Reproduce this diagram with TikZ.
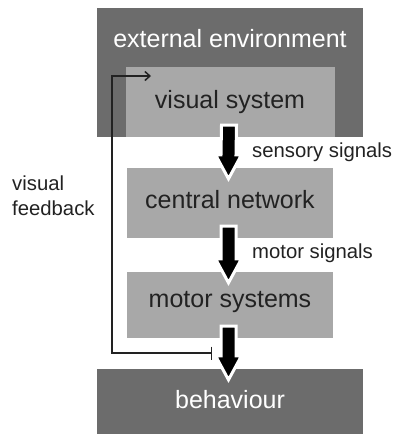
\documentclass[tikz,border=0pt]{standalone}
\usepackage{fontspec}
\setmainfont{Liberation Sans}
\usetikzlibrary{arrows.meta,calc}
\definecolor{darkbox}{RGB}{108,108,108}
\definecolor{lightbox}{RGB}{168,168,168}
\definecolor{ink}{RGB}{34,34,34}
\tikzset{
  darkrect/.style={fill=darkbox,draw=none,inner sep=0pt},
  lightrect/.style={fill=lightbox,draw=none,inner sep=0pt},
  bigtext/.style={font=\fontsize{25}{25}\selectfont,anchor=base,inner sep=0pt},
  smalltext/.style={font=\fontsize{20.3}{24}\selectfont,anchor=base west,inner sep=0pt,text=ink,align=left},
  bigarrow/.style={fill=black,draw=white,line width=3pt,line join=miter},
  fbline/.style={draw=ink,line width=1.5pt}
}
\newcommand\flowarrow[2]{%
  \draw[bigarrow]
    ($(#1.south)+(-9,-12)$) -- ($(#2.north)+(-9,-13)$) -- ($(#2.north)+(-14.5,-13)$)
    -- ($(#2.north)+(-1.5,11)$) -- ($(#2.north)+(11.5,-13)$) -- ($(#2.north)+(6,-13)$)
    -- ($(#1.south)+(6,-12)$) -- cycle;}
\begin{document}
\begin{tikzpicture}[x=1pt,y=-1pt]
\useasboundingbox (0,0) rectangle (395,434);
% boxes
\node[darkrect,minimum width=266pt,minimum height=129pt] (env) at (230,72.5) {};
\node[lightrect,minimum width=209pt,minimum height=70pt] (vs) at (230.5,102) {};
\node[lightrect,minimum width=206pt,minimum height=70pt] (cn) at (230,203) {};
\node[lightrect,minimum width=206pt,minimum height=66pt] (ms) at (230,305) {};
\node[darkrect,minimum width=266pt,minimum height=65pt] (bh) at (230,401.5) {};
% texts
\node[bigtext,text=white] (envt) at (230,47) {external environment};
\node[bigtext,text=ink] (vst) at (230,108) {visual system};
\node[bigtext,text=ink] (cnt) at (230,208) {central network};
\node[bigtext,text=ink] (mst) at (230,307) {motor systems};
\node[bigtext,text=white] (bht) at (230,408) {behaviour};
\node[smalltext] (sens) at (252,157) {sensory signals};
\node[smalltext] (mot) at (252,258) {motor signals};
\node[smalltext] (vf1) at (12,190) {visual};
\node[smalltext] (vf2) at (12,215) {feedback};
% flow arrows
\flowarrow{vs}{cn}
\flowarrow{cn}{ms}
\flowarrow{ms}{bh}
% feedback
\coordinate (fbs) at (212,353);
\coordinate (fbe) at (151,76);
\coordinate (fbc) at (112,76);
\draw[fbline,{Bar[width=13pt]}-{Straight Barb[length=5pt,width=9pt]}] (fbs) -| (fbc) -- (fbe);
\end{tikzpicture}
\end{document}
